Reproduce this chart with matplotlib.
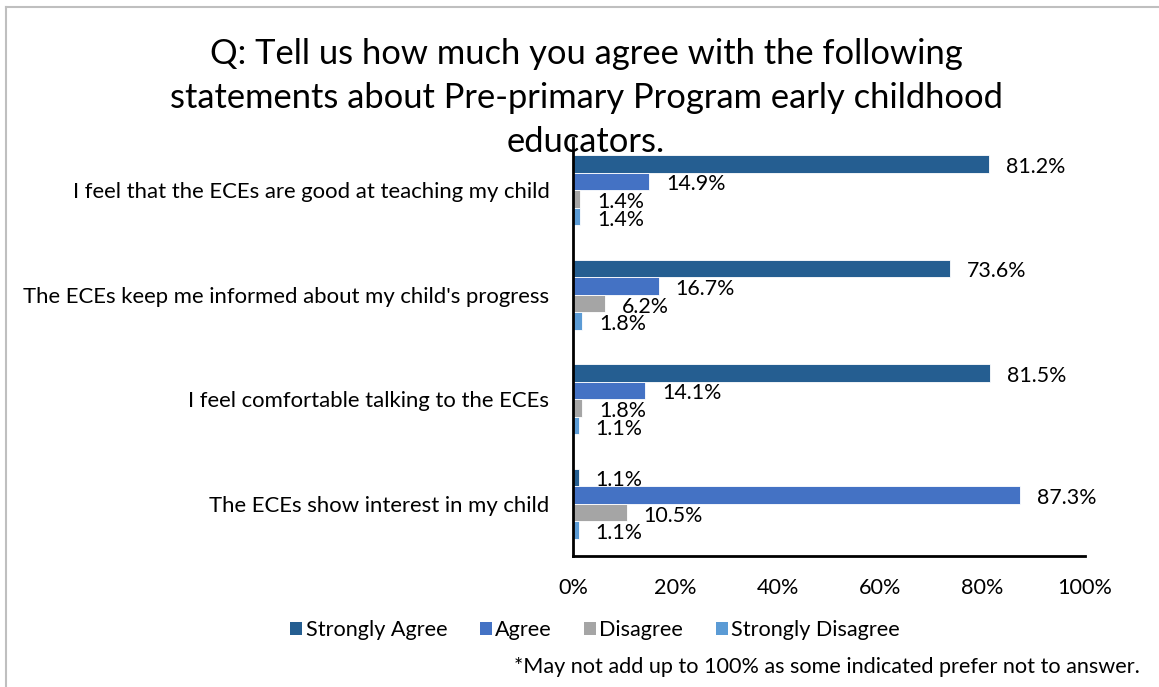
import matplotlib
matplotlib.use('Agg')
import matplotlib.pyplot as plt
import matplotlib.patches as mpatches
import matplotlib.lines as mlines
import numpy as np

plt.rcParams['font.family'] = ['Lato', 'DejaVu Sans']

statements = [
    'I feel that the ECEs are good at teaching my child',
    "The ECEs keep me informed about my child's progress",
    'I feel comfortable talking to the ECEs',
    'The ECEs show interest in my child',
]
series_names = ['Strongly Agree', 'Agree', 'Disagree', 'Strongly Disagree']
strongly_agree = [81.2, 73.6, 81.5, 1.1]
agree = [14.9, 16.7, 14.1, 87.3]
disagree = [1.4, 6.2, 1.8, 10.5]
strongly_disagree = [1.4, 1.8, 1.1, 1.1]
x_ticks = [0, 20, 40, 60, 80, 100]

colors = ['#255E91', '#4472C4', '#A5A5A5', '#5B9BD5']
series = [strongly_agree, agree, disagree, strongly_disagree]

W, H = 1159, 687
fig = plt.figure(figsize=(W / 100, H / 100), dpi=100)
fig.patch.set_facecolor('white')

# outer chart frame (only top and left edges fall inside the image)
fig.add_artist(mlines.Line2D([6 / W, 6 / W], [0, 1 - 7 / H], color='#BFBFBF', lw=1.5))
fig.add_artist(mlines.Line2D([6 / W, 1], [1 - 7 / H, 1 - 7 / H], color='#BFBFBF', lw=1.5))

ax = fig.add_axes([573 / W, 131 / H, 512 / W, 418 / H])

fs = 15.6
bar_h = 0.168
y = np.arange(len(statements))
for k, (vals, col, name) in enumerate(zip(series, colors, series_names)):
    pos = y + (k - 1.5) * bar_h
    ax.barh(pos, vals, height=bar_h, color=col, edgecolor='white', linewidth=0.6, label=name)
    for p, v in zip(pos, vals):
        ax.annotate(f'{v:.1f}%', xy=(v, p), xytext=(17, -3), textcoords='offset pixels',
                    ha='left', va='center', fontsize=15.4, color='black')

ax.set_xlim(0, 100)
ax.set_ylim(3.5, -0.5)
ax.set_xticks(x_ticks)
ax.set_xticklabels([f'{t}%' for t in x_ticks], fontsize=fs)
ax.set_yticks(y)
ax.set_yticklabels(statements, fontsize=15.9)
ax.tick_params(axis='both', length=0)
ax.tick_params(axis='x', pad=16)
ax.tick_params(axis='y', pad=17)
for s in ['top', 'right']:
    ax.spines[s].set_visible(False)
for s in ['left', 'bottom']:
    ax.spines[s].set_linewidth(2)
    ax.spines[s].set_color('black')

fig.text(586 / W, 1 - 98 / H,
         'Q: Tell us how much you agree with the following\n'
         'statements about Pre-primary Program early childhood\n'
         'educators.',
         ha='center', va='center', fontsize=24.8, linespacing=1.45, color='black')

handles = [mpatches.Patch(facecolor=c, label=n) for c, n in zip(colors, series_names)]
fig.legend(handles=handles, loc='center', bbox_to_anchor=(595 / W, 1 - 630 / H), ncol=4,
           frameon=False, fontsize=fs, handlelength=0.55, handleheight=0.55,
           handletextpad=0.15, columnspacing=1.5)

fig.text(1140 / W, 1 - 667 / H,
         '*May not add up to 100% as some indicated prefer not to answer.',
         ha='right', va='center', fontsize=fs, color='black')

fig.savefig('out.png', dpi=100, facecolor='white')
